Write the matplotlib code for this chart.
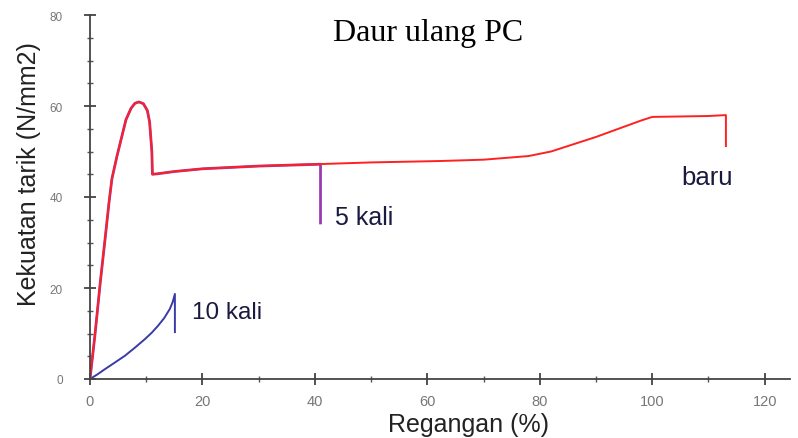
import matplotlib.pyplot as plt
from matplotlib.ticker import MultipleLocator

# Stress-strain curves for recycled PC
baru_x = [0, 0.9, 1.8, 2.7, 3.4, 3.9, 4.8, 5.6, 6.4, 7.3, 8.0, 8.7, 9.5, 10.2, 10.6, 11.0, 11.1, 12, 15, 20, 30,
          40, 50, 62, 70, 78, 82, 87, 90, 94, 98, 100, 105, 110, 113.1, 113.1]
baru_y = [0, 9.9, 20.9, 31, 39, 44, 49, 53, 57, 59.5, 60.6, 60.9, 60.5, 59, 56.5, 50, 45, 45.1, 45.6, 46.2,
          46.8, 47.2, 47.6, 47.9, 48.2, 49, 50, 52, 53.2, 55, 56.8, 57.6, 57.7, 57.8, 58, 51.2]

kali5_x = [0, 0.9, 1.8, 2.7, 3.4, 3.9, 4.8, 5.6, 6.4, 7.3, 8.0, 8.7, 9.5, 10.2, 10.6, 11.0, 11.1, 12, 15, 20, 30,
           41, 41]
kali5_y = [0, 9.9, 20.9, 31, 39, 44, 49, 53, 57, 59.5, 60.6, 60.9, 60.5, 59, 56.5, 50, 45, 45.1, 45.6, 46.2,
           46.8, 47.2, 34.3]

kali10_x = [0, 1.3, 2.7, 4.4, 6.2, 8.0, 9.8, 11.0, 12.1, 13.2, 14.2, 14.7, 15.1, 15.1]
kali10_y = [0, 1.0, 2.2, 3.6, 5.1, 6.9, 8.8, 10.2, 11.7, 13.4, 15.4, 16.9, 18.7, 10.3]

labels = ["baru", "5 kali", "10 kali"]
title = "Daur ulang PC"
xlabel = "Regangan (%)"
ylabel = "Kekuatan tarik (N/mm2)"

fig = plt.figure(figsize=(7.98, 4.39), dpi=100)
ax = fig.add_axes([90 / 798, 59 / 439, 700 / 798, 364 / 439])

ax.plot(kali10_x, kali10_y, color="#3a3aa8", lw=1.4)
ax.plot(kali5_x, kali5_y, color="#9a3cb0", lw=2.0)
ax.plot(baru_x, baru_y, color="#ff2020", lw=1.4)

ax.set_xlim(0, 124.5)
ax.set_ylim(0, 80)
ax.xaxis.set_major_locator(MultipleLocator(20))
ax.xaxis.set_minor_locator(MultipleLocator(10))
ax.yaxis.set_major_locator(MultipleLocator(20))
ax.yaxis.set_minor_locator(MultipleLocator(5))

for s in ["top", "right"]:
    ax.spines[s].set_visible(False)
for s in ["left", "bottom"]:
    ax.spines[s].set_color("#444444")
    ax.spines[s].set_linewidth(1.3)

ax.tick_params(which="major", direction="inout", length=9, width=1.3, color="#444444",
               labelcolor="#777777")
ax.tick_params(axis="x", which="major", pad=6.5, labelsize=10.5)
ax.tick_params(axis="y", which="major", pad=15, labelsize=8.5)
ax.tick_params(which="minor", direction="inout", length=5, width=1.0, color="#555555")
for lab in ax.get_xticklabels() + ax.get_yticklabels():
    lab.set_family("Liberation Sans")

fig.text(468 / 798, 1 - 425 / 439, xlabel, family="Liberation Sans", fontsize=18,
         color="#222222", ha="center", va="center")
fig.text(29 / 798, 1 - 174 / 439, ylabel, family="Liberation Sans", fontsize=18,
         color="#222222", ha="center", va="center", rotation=90)

fig.text(428 / 798, 1 - 34 / 439, title, family="Liberation Serif", fontsize=23,
         color="black", ha="center", va="center")

ax.text(105.2, 44.3, labels[0], family="Liberation Sans", fontsize=18.5, color="#1a1a40", va="center")
ax.text(43.6, 35.6, labels[1], family="Liberation Sans", fontsize=18, color="#1a1a40", va="center")
ax.text(18.1, 14.75, labels[2], family="Liberation Sans", fontsize=17.5, color="#1a1a40", va="center")

fig.savefig("out.png", dpi=100, facecolor="white")
